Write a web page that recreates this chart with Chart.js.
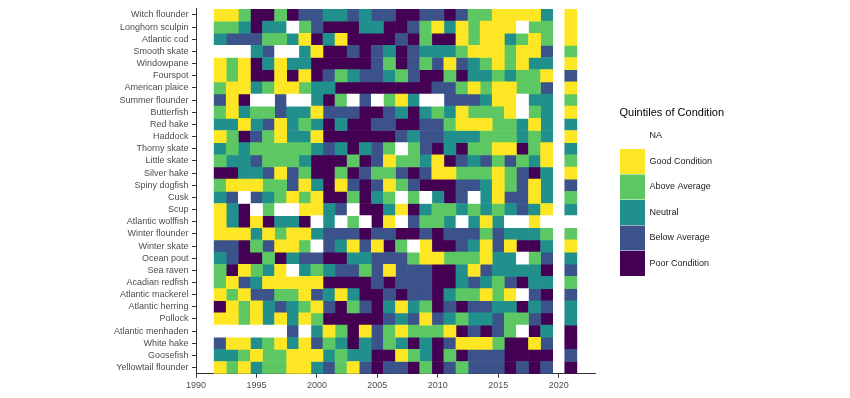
<!DOCTYPE html>
<html>
<head>
<meta charset="utf-8">
<title>Quintiles of Condition</title>
<script src="https://cdn.jsdelivr.net/npm/chart.js@4.4.1/dist/chart.umd.min.js"></script>
<style>
  html, body { margin: 0; padding: 0; background: #ffffff; }
  #wrap { width: 850px; height: 398px; }
</style>
</head>
<body>
<div id="wrap"><canvas id="heatChart" width="850" height="398"></canvas></div>
<script>
// species, top to bottom
const species = [
  'Witch flounder', 'Longhorn sculpin', 'Atlantic cod', 'Smooth skate', 'Windowpane',
  'Fourspot', 'American plaice', 'Summer flounder', 'Butterfish', 'Red hake',
  'Haddock', 'Thorny skate', 'Little skate', 'Silver hake', 'Spiny dogfish',
  'Cusk', 'Scup', 'Atlantic wolffish', 'Winter flounder', 'Winter skate',
  'Ocean pout', 'Sea raven', 'Acadian redfish', 'Atlantic mackerel', 'Atlantic herring',
  'Pollock', 'Atlantic menhaden', 'White hake', 'Goosefish', 'Yellowtail flounder'
];

// survey years (no 2020)
const years = [1992, 1993, 1994, 1995, 1996, 1997, 1998, 1999, 2000, 2001,
  2002, 2003, 2004, 2005, 2006, 2007, 2008, 2009, 2010, 2011,
  2012, 2013, 2014, 2015, 2016, 2017, 2018, 2019, 2021];

const classLabels = ['NA', 'Good Condition', 'Above Average', 'Neutral', 'Below Average', 'Poor Condition'];
const classCodes = [0, 5, 4, 3, 2, 1];
const classColors = ['#FFFFFF', '#FDE725', '#5DC863', '#21908C', '#3B528B', '#440154'];

// one string per species, one digit per year: 5 good ... 1 poor, 0 NA
const quintiles = [
  '55411412233232211221244555535',
  '44313304211133112453545550445',
  '32224435135111121411545534545',
  '00032003511212312333455545524',
  '54513533111112412425234545335',
  '54511515124322342114133434452',
  '45534554331111111122454554425',
  '25100200314020453002223550334',
  '45344233522211231343544450435',
  '33532534313112211224555443533',
  '54124533511111123223334443435',
  '34344444323132404213144551453',
  '43324443111412544351232424354',
  '11332524114124421255444542135',
  '45554425315212542111223542532',
  '32023454511413404031203522534',
  '53104005532011351344343432353',
  '53151331030401502443035300500',
  '55535455322212211212224233344',
  '22142554023525140511235251135',
  '32114132211332224554445330423',
  '41543503432242522211352333312',
  '45235555511112122211323421334',
  '54522445235311212213445450212',
  '15453234521421353412122331323',
  '55453535411111232523433244213',
  '00000020354152454445121240131',
  '25534535243132431312555411521',
  '33454455534331154314122211112',
  '54534455324521221412422212121'
];

const yearRange = [1990, 2023];
const tickStep = 5;

const fontFamily = '"Liberation Sans", Arial, sans-serif';
Chart.defaults.font.family = fontFamily;

// one dataset per class, each cell is a floating bar one year wide
const datasets = classLabels.map(function(label, k) {
  const points = [];
  species.forEach(function(sp, i) {
    years.forEach(function(yr, j) {
      if (Number(quintiles[i][j]) === classCodes[k]) {
        points.push({ y: sp, x: [yr - 0.5, yr + 0.5] });
      }
    });
  });
  return {
    label: label,
    data: points,
    backgroundColor: classColors[k],
    borderColor: classColors[k],
    borderWidth: 0,
    grouped: false,
    categoryPercentage: 1,
    barPercentage: 1
  };
});

// legend is clipped to its box, so give it room for the title
const legendWidthPlugin = {
  id: 'legendWidth',
  afterInit: function(chart) {
    const legend = chart.legend;
    const origFit = legend.fit;
    legend.fit = function() {
      origFit.call(this);
      this.width = 150;
    };
  }
};

const axisColor = '#333333';
const textColor = '#4D4D4D';

const ctx = document.getElementById('heatChart').getContext('2d');
const heatChart = new Chart(ctx, {
  type: 'bar',
  data: { labels: species, datasets: datasets },
  plugins: [legendWidthPlugin],
  options: {
    indexAxis: 'y',
    responsive: false,
    animation: false,
    devicePixelRatio: 1,
    layout: { padding: { top: 7.5, left: 0, right: 80.5, bottom: 0 } },
    scales: {
      x: {
        type: 'linear',
        min: yearRange[0],
        max: yearRange[1],
        afterFit: function(scale) { scale.height = 24.3; },
        grid: { display: true, drawOnChartArea: false, drawTicks: true, tickLength: 4, color: axisColor },
        border: { display: true, color: axisColor, width: 1 },
        ticks: {
          stepSize: tickStep,
          includeBounds: false,
          padding: 2,
          color: textColor,
          font: { size: 9 },
          maxRotation: 0,
          autoSkip: false,
          callback: function(v) { return String(v); }
        }
      },
      y: {
        type: 'category',
        offset: true,
        afterFit: function(scale) { scale.width = 196; },
        grid: { display: true, drawOnChartArea: false, drawTicks: true, tickLength: 4, offset: false, color: axisColor },
        border: { display: true, color: axisColor, width: 1 },
        ticks: { padding: 3.5, color: textColor, font: { size: 9 }, autoSkip: false }
      },
      // empty gap between the panel and the legend
      yGap: {
        type: 'linear',
        position: 'right',
        afterFit: function(scale) { scale.width = 24.5; },
        grid: { display: false },
        border: { display: false },
        ticks: { display: false }
      }
    },
    plugins: {
      tooltip: { enabled: false },
      legend: {
        position: 'right',
        align: 'start',
        onClick: null,
        labels: {
          boxWidth: 25,
          boxHeight: 25,
          padding: 0.5,
          color: '#1A1A1A',
          font: { size: 9 }
        },
        title: {
          display: true,
          text: 'Quintiles of Condition',
          position: 'start',
          color: '#000000',
          font: { size: 11 },
          padding: { top: 99.7, bottom: 2.6 }
        }
      }
    }
  }
});
</script>
</body>
</html>
